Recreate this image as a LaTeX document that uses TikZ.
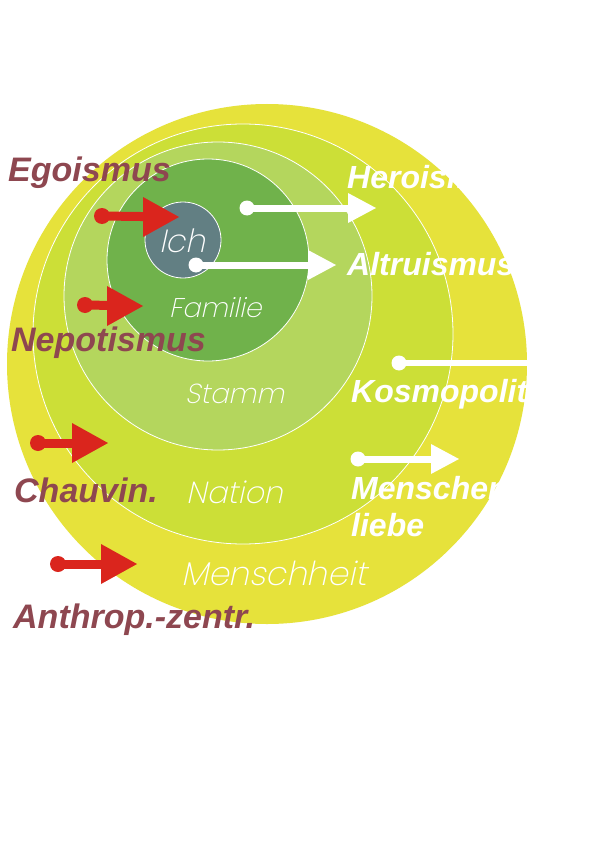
\documentclass[tikz,border=0pt]{standalone}
\usepackage{fontspec}
\setmainfont{Liberation Sans}
\newfontfamily\thinfont{Poppins}[UprightFont={* ExtraLight},FakeSlant=0.22]
\definecolor{ringA}{HTML}{E6E23B}
\definecolor{ringB}{HTML}{CCDF37}
\definecolor{ringC}{HTML}{B4D65D}
\definecolor{ringD}{HTML}{70B24B}
\definecolor{ichc}{HTML}{627F83}
\definecolor{redc}{HTML}{DA251D}
\definecolor{labc}{HTML}{8E4750}
\tikzset{
  ring/.style={draw=white,line width=0.8},
  boldlab/.style={inner sep=0,anchor=base west,font=\fontsize{34}{37}\selectfont\bfseries\itshape},
  whitelab/.style={boldlab,text=white,font=\fontsize{32}{37}\selectfont\bfseries\itshape},
  thinlab/.style={inner sep=0,anchor=base west,text=white},
  redline/.style={draw=redc,line width=9,shorten >=20},
  whiteline/.style={draw=white,line width=7,shorten >=15},
}
\begin{document}
\begin{tikzpicture}[x=1pt,y=-1pt]
\useasboundingbox (0,0) rectangle (595,845);
\fill[white] (0,0) rectangle (595,845);
% rings
\fill[ringA] (267,364) circle (260);
\filldraw[ring,fill=ringB] (243,334) circle (210);
\filldraw[ring,fill=ringC] (218,296) circle (154);
\filldraw[ring,fill=ringD] (208,260) circle (101);
\filldraw[ring,fill=ichc] (183,240) circle (38);
% ring labels
\node[thinlab,font=\thinfont\fontsize{32}{33}\selectfont] (ich) at (159,252) {Ich};
\node[thinlab,font=\thinfont\fontsize{27}{28}\selectfont] (fam) at (169,317) {Familie};
\node[thinlab,font=\thinfont\fontsize{27.5}{28}\selectfont] (stamm) at (185,403) {Stamm};
\node[thinlab,font=\thinfont\fontsize{30.5}{31}\selectfont] (nation) at (186,503) {Nation};
\node[thinlab,font=\thinfont\fontsize{33}{34}\selectfont] (mensch) at (181,585) {Menschheit};
% red arrows
\coordinate (r1a) at (102,216); \coordinate (r1b) at (179,217);
\coordinate (r2a) at (85,305);  \coordinate (r2b) at (143,306);
\coordinate (r3a) at (38,443);  \coordinate (r3b) at (108,443);
\coordinate (r4a) at (58,564);  \coordinate (r4b) at (137,564);
\foreach \a/\b in {r1a/r1b,r2a/r2b,r3a/r3b,r4a/r4b}{
  \fill[redc] (\a) circle (8);
  \draw[redline] (\a) -- (\b);
  \fill[redc] (\b) ++(-36,-20) -- (\b) -- ++(-36,20) -- cycle;
}
% white arrows
\coordinate (w1a) at (247,208); \coordinate (w1b) at (376,208);
\coordinate (w2a) at (196,265); \coordinate (w2b) at (336,265);
\coordinate (w4a) at (358,459); \coordinate (w4b) at (459,459);
\foreach \a/\b in {w1a/w1b,w2a/w2b,w4a/w4b}{
  \fill[white] (\a) circle (7.5);
  \draw[whiteline] (\a) -- (\b);
  \fill[white] (\b) ++(-28,-15) -- (\b) -- ++(-28,15) -- cycle;
}
\coordinate (w3a) at (399,363); \coordinate (w3b) at (592,363);
\fill[white] (w3a) circle (7.5);
\draw[white,line width=6,shorten >=15] (w3a) -- (w3b);
\fill[white] (w3b) ++(-28,-15) -- (w3b) -- ++(-28,15) -- cycle;
% left labels
\node[boldlab,text=labc] (ego) at (8,182) {Egoismus};
\node[boldlab,text=labc] (nep) at (11,351) {Nepotismus};
\node[boldlab,text=labc] (chau) at (14,502) {Chauvin.};
\node[boldlab,text=labc] (anth) at (13,628) {Anthrop.-zentr.};
% right labels
\node[whitelab] (hero) at (347,188) {Heroismus};
\node[whitelab] (altr) at (347,275) {Altruismus};
\node[whitelab] (kosm) at (351,402) {Kosmopolit.};
\node[whitelab] (mli1) at (351,499) {Menschen-};
\node[whitelab] (mli2) at (351,536) {liebe};
\end{tikzpicture}
\end{document}
